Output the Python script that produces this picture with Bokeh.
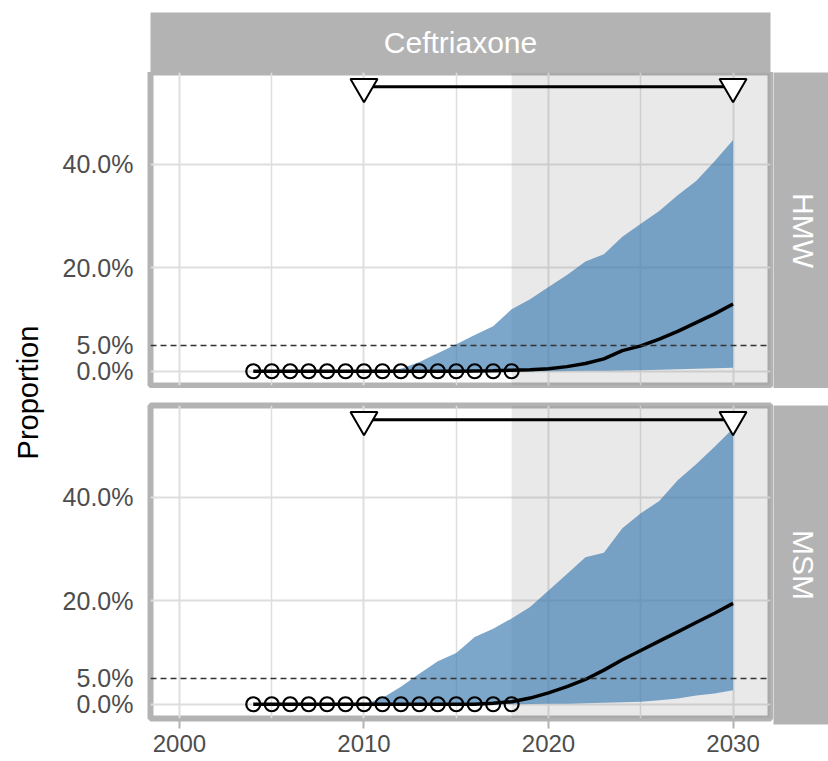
import math
from bokeh.plotting import figure
from bokeh.layouts import row, column
from bokeh.models import Range1d, FixedTicker, NumeralTickFormatter, Span, BoxAnnotation
from bokeh.core.properties import value
from bokeh.embed import file_html
from bokeh.resources import INLINE

# ---------------- data ----------------
drug = "Ceftriaxone"
groups = ["HMW", "MSM"]
y_label = "Proportion"

years = [2004, 2005, 2006, 2007, 2008, 2009, 2010, 2011, 2012, 2013, 2014, 2015, 2016,
         2017, 2018, 2019, 2020, 2021, 2022, 2023, 2024, 2025, 2026, 2027, 2028, 2029, 2030]

hmw_median = [0.0, 0.0, 0.0, 0.0, 0.0, 0.0, 0.0, 0.0, 0.0, 0.0, 0.0, 0.0, 0.0005,
              0.001, 0.002, 0.003, 0.005, 0.009, 0.015, 0.024, 0.040, 0.049, 0.062, 0.077, 0.094, 0.111, 0.130]
hmw_lower = [0.0, 0.0, 0.0, 0.0, 0.0, 0.0, 0.0, 0.0, 0.0, 0.0, 0.0, 0.0, 0.0,
             0.0, 0.0, 0.0, 0.0, 0.0005, 0.001, 0.001, 0.0015, 0.002, 0.003, 0.004, 0.005, 0.006, 0.007]
hmw_upper = [0.0, 0.0, 0.0, 0.0, 0.0, 0.0, 0.0, 0.0, 0.005, 0.018, 0.035, 0.052, 0.070,
             0.087, 0.120, 0.139, 0.163, 0.186, 0.212, 0.226, 0.260, 0.285, 0.310, 0.340, 0.368, 0.406, 0.447]

msm_median = [0.0, 0.0, 0.0, 0.0, 0.0, 0.0, 0.0, 0.0, 0.0, 0.0, 0.0, 0.0, 0.0,
              0.002, 0.005, 0.012, 0.022, 0.034, 0.048, 0.066, 0.086, 0.104, 0.122, 0.140, 0.158, 0.176, 0.195]
msm_lower = [0.0, 0.0, 0.0, 0.0, 0.0, 0.0, 0.0, 0.0, 0.0, 0.0, 0.0, 0.0, 0.0,
             0.0, 0.0, 0.0005, 0.001, 0.001, 0.002, 0.003, 0.004, 0.005, 0.008, 0.011, 0.017, 0.021, 0.027]
msm_upper = [0.0, 0.0, 0.0, 0.0, 0.0, 0.0, 0.0, 0.012, 0.034, 0.059, 0.083, 0.099, 0.130,
             0.146, 0.166, 0.188, 0.220, 0.252, 0.284, 0.293, 0.340, 0.369, 0.393, 0.433, 0.464, 0.498, 0.533]

obs_years = [2004, 2005, 2006, 2007, 2008, 2009, 2010, 2011, 2012, 2013, 2014, 2015, 2016, 2017, 2018]
hmw_obs = [0.0, 0.0, 0.0, 0.0, 0.0, 0.0, 0.0, 0.0, 0.0, 0.0, 0.0, 0.0, 0.0, 0.0, 0.0]
msm_obs = [0.0, 0.0, 0.0, 0.0, 0.0, 0.0, 0.0, 0.0, 0.0, 0.0, 0.0, 0.0, 0.0, 0.0, 0.0]

target_years = [2010, 2030]
target_level = [0.55, 0.55]

threshold = 0.05
forecast_start = 2018

x_ticks = [2000, 2010, 2020, 2030]
x_minor = [2005, 2015, 2025]
y_ticks = [0.0, 0.05, 0.2, 0.4]
y_grid = [0.0, 0.2, 0.4]

# ---------------- styling ----------------
FONT = value("Liberation Sans")
STRIP = "#b3b3b3"
GRID = "#dedede"
BLUE = "#4682b4"
LABEL = "#4d4d4d"

x_range = Range1d(1998.43, 2032.03)
y_range = Range1d(-0.0275, 0.5775)

FW, FH = 620, 313
YLAB_W = 54
LEFT = 150 - YLAB_W
SIDE = 55


def make_panel(median, lower, upper, obs, show_x):
    kw = dict(frame_width=FW, frame_height=FH, x_range=x_range, y_range=y_range,
              toolbar_location=None, output_backend="svg",
              x_axis_location="below" if show_x else None, y_axis_location="left",
              min_border_left=LEFT, min_border_right=3,
              min_border_top=17 if show_x else 0,
              min_border_bottom=43 if show_x else 3,
              background_fill_color="white", border_fill_color="white",
              outline_line_color=STRIP, outline_line_width=6)
    p = figure(**kw)

    p.xgrid.ticker = FixedTicker(ticks=x_ticks, minor_ticks=x_minor)
    p.xgrid.grid_line_color = GRID
    p.xgrid.grid_line_width = 2
    p.xgrid.minor_grid_line_color = GRID
    p.xgrid.minor_grid_line_width = 1.5
    p.ygrid.ticker = FixedTicker(ticks=y_grid)
    p.ygrid.grid_line_color = GRID
    p.ygrid.grid_line_width = 2

    ya = p.yaxis[0]
    ya.ticker = FixedTicker(ticks=y_ticks)
    ya.formatter = NumeralTickFormatter(format="0.0%")
    ya.axis_line_color = None
    ya.major_tick_line_color = None
    ya.minor_tick_line_color = None
    ya.major_tick_out = 0
    ya.major_tick_in = 0
    ya.major_label_standoff = 17
    ya.major_label_text_font = "Liberation Sans"
    ya.major_label_text_font_size = "25px"
    ya.major_label_text_color = LABEL

    if show_x:
        xa = p.xaxis[0]
        xa.ticker = FixedTicker(ticks=x_ticks)
        xa.axis_line_color = None
        xa.major_tick_line_color = STRIP
        xa.major_tick_line_width = 2
        xa.minor_tick_line_color = None
        xa.major_tick_out = 10
        xa.major_tick_in = 0
        xa.major_label_standoff = 6
        xa.major_label_text_font = "Liberation Sans"
        xa.major_label_text_font_size = "24px"
        xa.major_label_text_color = LABEL

    box = BoxAnnotation(left=forecast_start, fill_color="#7f7f7f", fill_alpha=0.17,
                        line_color=None, level="underlay")
    p.add_layout(box)

    p.varea(x=years, y1=lower, y2=upper, fill_color=BLUE, fill_alpha=0.7)
    p.add_layout(Span(location=threshold, dimension="width", line_color="#333333",
                      line_dash="6 4", line_width=1.5))
    p.line(years, median, line_color="black", line_width=3.5)
    p.scatter(obs_years, obs, marker="circle", size=14, fill_color=None,
              line_color="black", line_width=2.2)
    p.line(target_years, target_level, line_color="black", line_width=3)
    p.scatter(target_years, target_level, marker="inverted_triangle", size=27,
              fill_color="white", line_color="black", line_width=2)
    return p


def make_strip(text, fw, fh, angle, tx, ty, mt, mb, ml, mr, bg=STRIP, color="white", size="30px"):
    s = figure(frame_width=fw, frame_height=fh, x_range=Range1d(0, 1), y_range=Range1d(0, 1),
               toolbar_location=None, output_backend="svg",
               x_axis_location=None, y_axis_location=None,
               min_border_top=mt, min_border_bottom=mb, min_border_left=ml, min_border_right=mr,
               background_fill_color=bg, border_fill_color="white", outline_line_color=None)
    s.xgrid.visible = False
    s.ygrid.visible = False
    s.text(x=[tx], y=[ty], text=[text], angle=angle, text_align="center",
           text_baseline="middle", text_color=color, text_font=FONT, text_font_size=size)
    return s


p1 = make_panel(hmw_median, hmw_lower, hmw_upper, hmw_obs, False)
p2 = make_panel(msm_median, msm_lower, msm_upper, msm_obs, True)

top_strip = make_strip(drug, FW, 60, 0, 0.5, 0.5, 12, 0, LEFT, 3 + SIDE)
hmw_strip = make_strip(groups[0], SIDE, 316, -math.pi / 2, 0.54, 0.5, 0, 0, 0, 0)
msm_strip = make_strip(groups[1], SIDE, 319, -math.pi / 2, 0.54, 0.5, 14, 40, 0, 0)
ylab = make_strip(y_label, YLAB_W, 646, math.pi / 2, 0.5, 0.5046, 72, 43, 0, 0,
                  bg="white", color="black", size="29px")

layout = row(ylab, column(top_strip, row(p1, hmw_strip), row(p2, msm_strip)))

open("out.html", "w").write(file_html(layout, INLINE))
